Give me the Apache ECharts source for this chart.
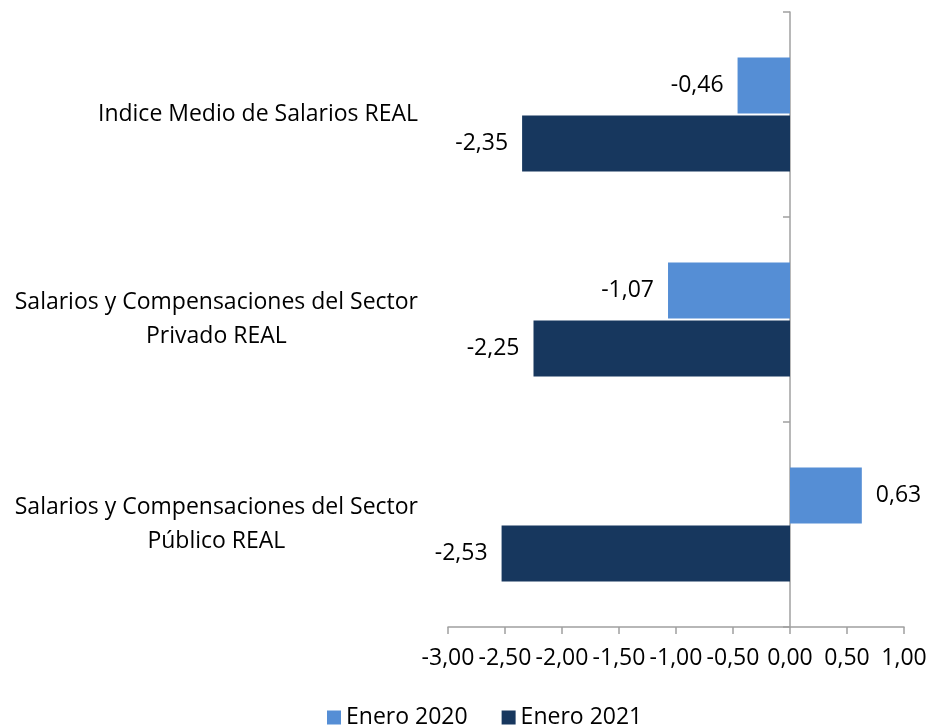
<!DOCTYPE html>
<html>
<head>
<meta charset="utf-8">
<script src="https://cdn.jsdelivr.net/npm/echarts@6/dist/echarts.min.js"></script>
<style>
  html, body { margin: 0; padding: 0; background: #fff; }
  #chart { width: 930px; height: 727px; }
</style>
</head>
<body>
<div id="chart"></div>
<script>
// datos
const categorias = [
  'Indice Medio de Salarios REAL',
  'Salarios y Compensaciones del Sector\nPrivado REAL',
  'Salarios y Compensaciones del Sector\nPúblico REAL'
];
const enero2020 = [-0.46, -1.07, 0.63];
const enero2021 = [-2.35, -2.25, -2.53];
const nombres = ['Enero 2020', 'Enero 2021'];

const fuente = 'Open Sans';
const tam = 23;
const fmt = v => v.toFixed(2).replace('.', ',');

const chartDom = document.getElementById('chart');
const myChart = echarts.init(chartDom);

const etiqueta = {
  show: true,
  position: 'left',
  distance: 14,
  color: '#000',
  fontFamily: fuente,
  fontSize: tam,
  formatter: p => fmt(p.value)
};

const option = {
  animation: false,
  grid: { left: 448, right: 26, top: 12, bottom: 100, containLabel: false, outerBoundsMode: 'none' },
  legend: {
    top: 701,
    left: 322,
    itemWidth: 14,
    itemHeight: 14,
    itemGap: 34,
    icon: 'rect',
    textStyle: { fontFamily: fuente, fontSize: tam, color: '#000' },
    data: nombres
  },
  xAxis: {
    type: 'value',
    min: -3,
    max: 1,
    interval: 0.5,
    splitLine: { show: false },
    axisLine: { show: true, onZero: false, lineStyle: { color: '#a0a0a0', width: 1.5 } },
    axisTick: { show: true, length: 7, lineStyle: { color: '#a0a0a0', width: 1.5 } },
    axisLabel: {
      color: '#000', fontFamily: fuente, fontSize: tam, margin: 20,
      formatter: v => fmt(v)
    }
  },
  yAxis: {
    type: 'category',
    inverse: true,
    data: categorias,
    axisLine: { show: true, onZero: true, lineStyle: { color: '#a0a0a0', width: 1.5 } },
    axisTick: { show: true, length: 7, lineStyle: { color: '#a0a0a0', width: 1.5 } },
    axisLabel: {
      margin: 30,
      align: 'right',
      color: '#000',
      fontFamily: fuente,
      fontSize: tam,
      lineHeight: 34,
      formatter: v => v.split('\n').map(l => '{c|' + l + '}').join('\n'),
      rich: { c: { align: 'center', fontFamily: fuente, fontSize: tam, lineHeight: 34, color: '#000' } }
    }
  },
  series: [
    {
      name: nombres[0],
      type: 'bar',
      data: enero2020.map(v => ({
        value: v,
        label: v >= 0 ? { position: 'right' } : undefined
      })),
      barWidth: 56,
      barGap: '4%',
      itemStyle: { color: '#558ED5' },
      label: etiqueta
    },
    {
      name: nombres[1],
      type: 'bar',
      data: enero2021,
      barWidth: 56,
      barGap: '4%',
      itemStyle: { color: '#17375E' },
      label: etiqueta
    }
  ]
};

option && myChart.setOption(option);
</script>
</body>
</html>
